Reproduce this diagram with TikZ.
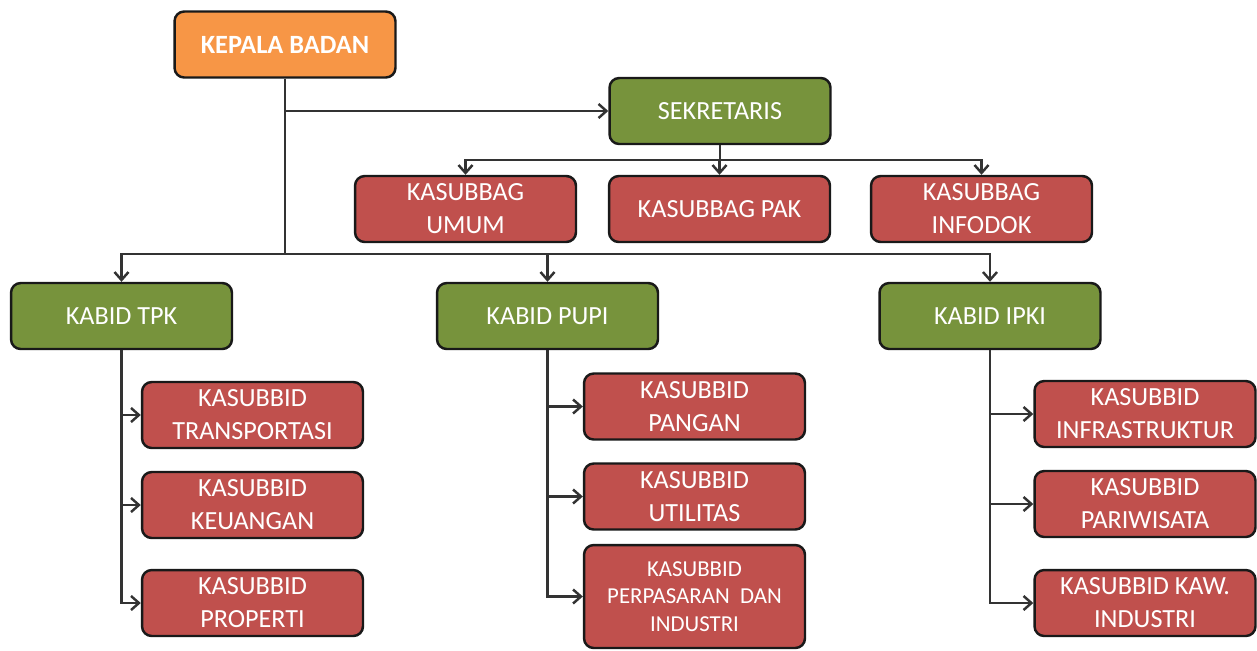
\documentclass[tikz,border=0pt]{standalone}
\usepackage{fontspec}
\setmainfont{Carlito}
\usetikzlibrary{arrows.meta}
\definecolor{kepalaorange}{HTML}{F79646}
\definecolor{kabidgreen}{HTML}{77933C}
\definecolor{subred}{HTML}{C0504D}
\definecolor{linegray}{HTML}{333333}
\tikzset{
    unit/.style={draw=black!90, line width=1.4pt, rounded corners=5.5pt,
        minimum width=4.42cm, minimum height=1.32cm, align=center,
        text=white, font=\fontsize{14.9}{18.7}\selectfont, inner sep=1pt},
    headbox/.style={unit, fill=kepalaorange, font=\fontsize{15}{19}\selectfont\bfseries},
    greenbox/.style={unit, fill=kabidgreen},
    redbox/.style={unit, fill=subred},
    link/.style={draw=linegray, line width=1.4pt},
    >={Straight Barb[length=4.5pt, width=8pt, line width=1.4pt]},
}
\begin{document}
\begin{tikzpicture}[x=0.02cm, y=-0.02cm]
            \useasboundingbox (0, 0) rectangle (1257, 650);
            % top
            \node[headbox] (kepala) at (285, 44.5) {KEPALA BADAN};
            \node[greenbox] (sekretaris) at (720, 111) {SEKRETARIS};
            \node[redbox] (umum) at (465.5, 209) {KASUBBAG\\UMUM};
            \node[redbox] (pak) at (719.5, 209) {KASUBBAG PAK};
            \node[redbox] (infodok) at (981.5, 209) {KASUBBAG\\INFODOK};
            % kabid
            \node[greenbox] (tpk) at (121.5, 316) {KABID TPK};
            \node[greenbox] (pupi) at (547.5, 316) {KABID PUPI};
            \node[greenbox] (ipki) at (990, 316) {KABID IPKI};
            % kasubbid
            \node[redbox] (transportasi) at (252.5, 415) {KASUBBID\\TRANSPORTASI};
            \node[redbox] (keuangan) at (252.5, 505) {KASUBBID\\KEUANGAN};
            \node[redbox] (properti) at (252.5, 603) {KASUBBID\\PROPERTI};
            \node[redbox] (pangan) at (694.5, 406.5) {KASUBBID\\PANGAN};
            \node[redbox] (utilitas) at (694.5, 496.5) {KASUBBID\\UTILITAS};
            \node[redbox, minimum height=2.06cm, font=\fontsize{13}{15.6}\selectfont]
                (perpasaran) at (694.5, 596.5) {KASUBBID\\PERPASARAN\ \ DAN\\INDUSTRI};
            \node[redbox] (infrastruktur) at (1145, 414) {KASUBBID\\INFRASTRUKTUR};
            \node[redbox] (pariwisata) at (1145, 504) {KASUBBID\\PARIWISATA};
            \node[redbox] (kawasan) at (1145, 603) {KASUBBID KAW.\\INDUSTRI};
            % connectors
            \coordinate (kbus) at (285, 254);
            \coordinate (sbus) at (720, 160);
            \draw[link] (kepala.south) -- (kbus);
            \draw[link, ->] (kepala.south |- sekretaris.west) -- (sekretaris.west);
            \draw[link, ->] (kbus) -| (tpk.north);
            \draw[link, ->] (kbus) -| (ipki.north);
            \draw[link, ->] (kbus -| pupi.north) -- (pupi.north);
            \draw[link] (sekretaris.south) -- (sbus);
            \draw[link, ->] (sbus) -| (umum.north);
            \draw[link, ->] (sbus) -| (infodok.north);
            \draw[link, ->] (sbus -| pak.north) -- (pak.north);
            \draw[link, ->] (tpk.south) |- (properti.west);
            \draw[link, ->] (tpk.south |- transportasi.west) -- (transportasi.west);
            \draw[link, ->] (tpk.south |- keuangan.west) -- (keuangan.west);
            \draw[link, ->] (pupi.south) |- (perpasaran.west);
            \draw[link, ->] (pupi.south |- pangan.west) -- (pangan.west);
            \draw[link, ->] (pupi.south |- utilitas.west) -- (utilitas.west);
            \draw[link, ->] (ipki.south) |- (kawasan.west);
            \draw[link, ->] (ipki.south |- infrastruktur.west) -- (infrastruktur.west);
            \draw[link, ->] (ipki.south |- pariwisata.west) -- (pariwisata.west);
        \end{tikzpicture}
\end{document}
